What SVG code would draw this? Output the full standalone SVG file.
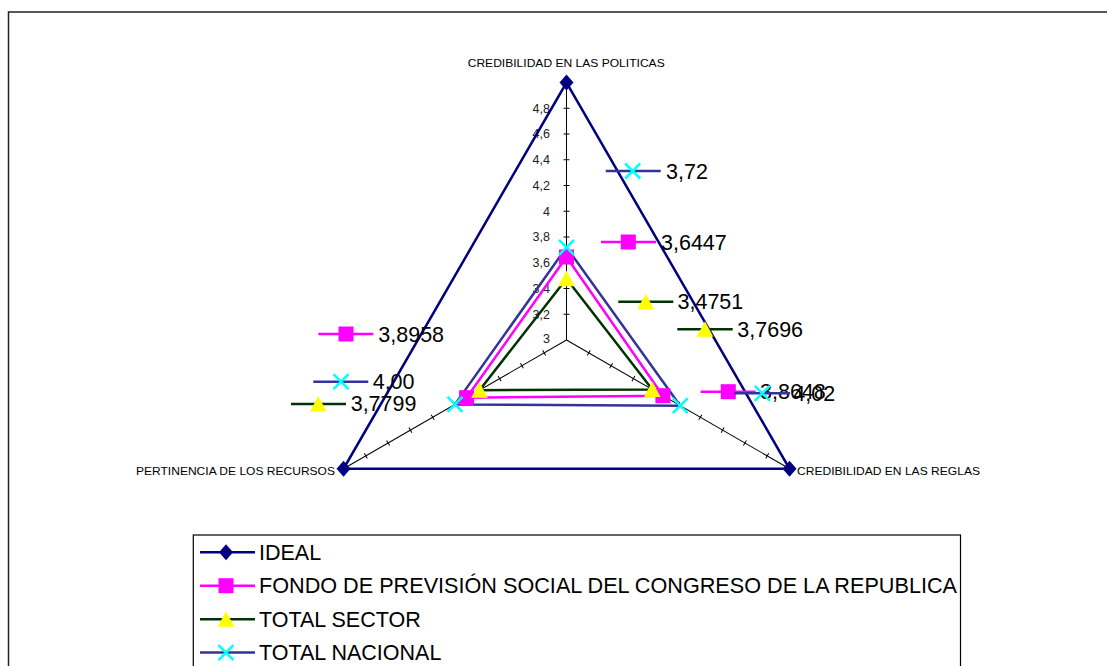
<svg xmlns="http://www.w3.org/2000/svg" xmlns:xlink="http://www.w3.org/1999/xlink" width="1107" height="666" viewBox="0 0 1107 666">
<style>
.lbl{font-family:"Liberation Sans",Arial,sans-serif;fill:#000}
.big{font-size:21.5px}
.ax{font-size:11.5px}
.tk{font-size:12.5px;text-anchor:end;fill:#222}
.axis{stroke:#000;stroke-width:1;fill:none}
.ideal{stroke:#000080;stroke-width:2.5;fill:none}
.fondo{stroke:#FF00FF;stroke-width:2.5;fill:none}
.sector{stroke:#003300;stroke-width:2.5;fill:none}
.nac{stroke:#333399;stroke-width:2.5;fill:none}
</style>
<defs>
<path id="mDia" d="M0,-8 L7,0 L0,8 L-7,0 Z" fill="#000080"/>
<rect id="mSq" x="-7.5" y="-7.5" width="15" height="15" fill="#FF00FF"/>
<path id="mTri" d="M0,-8 L8.3,7.5 L-8.3,7.5 Z" fill="#FFFF00"/>
<path id="mX" d="M-7.5,-7.5 L7.5,7.5 M-7.5,7.5 L7.5,-7.5" stroke="#00FFFF" stroke-width="2.5" fill="none"/>
<g id="ticks">
<line class="axis" x1="0" y1="0" x2="257.5" y2="0"/>
<path class="axis" d="M25.75,-3V3M51.5,-3V3M77.25,-3V3M103,-3V3M128.75,-3V3M154.5,-3V3M180.25,-3V3M206,-3V3M231.75,-3V3"/>
</g>
</defs>
<rect x="8.5" y="12" width="1110" height="700" fill="#fff" stroke="#222" stroke-width="1.5"/>

<g id="axes">
<use xlink:href="#ticks" href="#ticks" transform="translate(566.5,340) rotate(-90)"/>
<use xlink:href="#ticks" href="#ticks" transform="translate(566.5,340) rotate(30)"/>
<use xlink:href="#ticks" href="#ticks" transform="translate(566.5,340) rotate(150)"/>
<g class="lbl tk">
<text x="550" y="343">3</text>
<text x="550" y="318.5">3,2</text>
<text x="550" y="292.8">3,4</text>
<text x="550" y="267">3,6</text>
<text x="550" y="241.3">3,8</text>
<text x="550" y="215.5">4</text>
<text x="550" y="189.8">4,2</text>
<text x="550" y="164">4,4</text>
<text x="550" y="138.3">4,6</text>
<text x="550" y="112.5">4,8</text>
</g>
<text class="lbl ax" x="467.7" y="66.5" textLength="197" lengthAdjust="spacingAndGlyphs">CREDIBILIDAD EN LAS POLITICAS</text>
<text class="lbl ax" x="136" y="475" textLength="199" lengthAdjust="spacingAndGlyphs">PERTINENCIA DE LOS RECURSOS</text>
<text class="lbl ax" x="797" y="475" textLength="183" lengthAdjust="spacingAndGlyphs">CREDIBILIDAD EN LAS REGLAS</text>
</g>

<g id="connectors">
<polygon class="ideal" points="566.5,82.5 789.5,468.75 343.5,468.75"/>
<polygon class="fondo" points="566.5,257 662.9,395.7 466.6,397.7"/>
<polygon class="sector" points="566.5,278.8 652.3,389.5 479.5,390.2"/>
<polygon class="nac" points="566.5,247.3 680.2,405.7 455,404.4"/>
</g>

<g id="series-ideal">
<use href="#mDia" xlink:href="#mDia" x="566.5" y="82.5"/>
<use href="#mDia" xlink:href="#mDia" x="789.5" y="468.75"/>
<use href="#mDia" xlink:href="#mDia" x="343.5" y="468.75"/>
</g>
<g id="series-fondo">
<use href="#mSq" xlink:href="#mSq" x="566.5" y="257"/>
<use href="#mSq" xlink:href="#mSq" x="662.9" y="395.7"/>
<use href="#mSq" xlink:href="#mSq" x="466.6" y="397.7"/>
</g>
<g id="series-sector">
<use href="#mTri" xlink:href="#mTri" x="566.5" y="278.8"/>
<use href="#mTri" xlink:href="#mTri" x="652.3" y="389.5"/>
<use href="#mTri" xlink:href="#mTri" x="479.5" y="390.2"/>
</g>
<g id="series-nacional">
<use href="#mX" xlink:href="#mX" x="566.5" y="247.3"/>
<use href="#mX" xlink:href="#mX" x="680.2" y="405.7"/>
<use href="#mX" xlink:href="#mX" x="455" y="404.4"/>
</g>

<g id="label-nac-pol">
<line class="nac" x1="605.7" y1="171" x2="660.7" y2="171"/>
<use href="#mX" xlink:href="#mX" x="632.7" y="171"/>
<text class="lbl big" x="666" y="178.5">3,72</text>
</g>
<g id="label-fondo-pol">
<line class="fondo" x1="601" y1="242" x2="656" y2="242"/>
<use href="#mSq" xlink:href="#mSq" x="628.3" y="242"/>
<text class="lbl big" x="661" y="249.5">3,6447</text>
</g>
<g id="label-sector-pol">
<line class="sector" x1="618.3" y1="301.7" x2="673.3" y2="301.7"/>
<use href="#mTri" xlink:href="#mTri" x="645.7" y="301.7"/>
<text class="lbl big" x="677.5" y="309.3">3,4751</text>
</g>
<g id="label-sector-reg">
<line class="sector" x1="677.3" y1="329.3" x2="732.7" y2="329.3"/>
<use href="#mTri" xlink:href="#mTri" x="705" y="329.3"/>
<text class="lbl big" x="737.3" y="336.5">3,7696</text>
</g>
<g id="label-fondo-reg">
<line class="fondo" x1="700.7" y1="391.7" x2="755.7" y2="391.7"/>
<use href="#mSq" xlink:href="#mSq" x="728.3" y="391.7"/>
<text class="lbl big" x="760" y="399.3">3,8648</text>
</g>
<g id="label-nac-reg">
<line class="nac" x1="734.3" y1="393.3" x2="790" y2="393.3"/>
<use href="#mX" xlink:href="#mX" x="762.3" y="393.3"/>
<text class="lbl big" x="793.3" y="400.5">4,02</text>
</g>
<g id="label-fondo-rec">
<line class="fondo" x1="318.3" y1="334" x2="373.3" y2="334"/>
<use href="#mSq" xlink:href="#mSq" x="346" y="334"/>
<text class="lbl big" x="378.3" y="341.7">3,8958</text>
</g>
<g id="label-nac-rec">
<line class="nac" x1="313.3" y1="381.7" x2="368.3" y2="381.7"/>
<use href="#mX" xlink:href="#mX" x="341" y="381.7"/>
<text class="lbl big" x="372.7" y="389.3">4,00</text>
</g>
<g id="label-sector-rec">
<line class="sector" x1="291" y1="404" x2="346" y2="404"/>
<use href="#mTri" xlink:href="#mTri" x="318.3" y="404"/>
<text class="lbl big" x="350.7" y="411.3">3,7799</text>
</g>

<g id="legend">
<rect x="193.3" y="535" width="767.2" height="200" fill="#fff" stroke="#000" stroke-width="1.2"/>
<g id="leg-ideal">
<line class="ideal" x1="200" y1="552.3" x2="255" y2="552.3"/>
<use href="#mDia" xlink:href="#mDia" x="226" y="552.3"/>
<text class="lbl big" x="259" y="560">IDEAL</text>
</g>
<g id="leg-fondo">
<line class="fondo" x1="200" y1="585.7" x2="255" y2="585.7"/>
<use href="#mSq" xlink:href="#mSq" x="226" y="585.7"/>
<text class="lbl big" x="259" y="593.4" textLength="698" lengthAdjust="spacingAndGlyphs">FONDO DE PREVISIÓN SOCIAL DEL CONGRESO DE LA REPUBLICA</text>
</g>
<g id="leg-sector">
<line class="sector" x1="200" y1="619.2" x2="255" y2="619.2"/>
<use href="#mTri" xlink:href="#mTri" x="226" y="619.2"/>
<text class="lbl big" x="259" y="626.8">TOTAL SECTOR</text>
</g>
<g id="leg-nac">
<line class="nac" x1="200" y1="652.6" x2="255" y2="652.6"/>
<use href="#mX" xlink:href="#mX" x="226" y="652.6"/>
<text class="lbl big" x="259" y="660.2">TOTAL NACIONAL</text>
</g>
</g>
</svg>
